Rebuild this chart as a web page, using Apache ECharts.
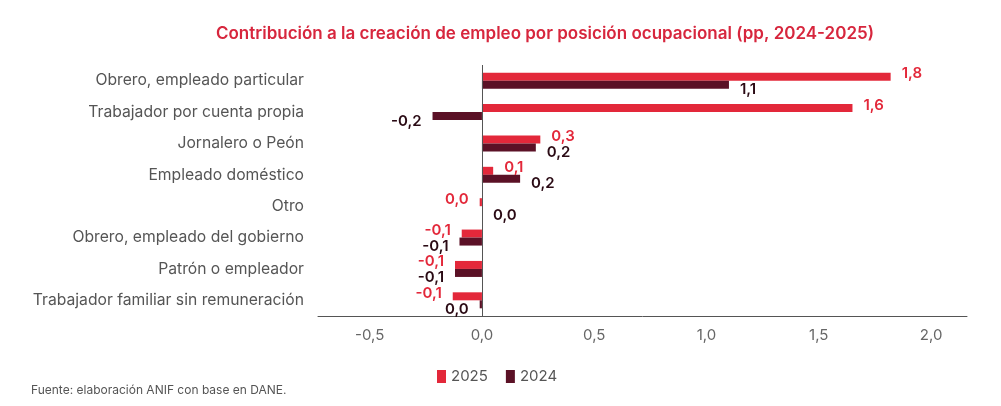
<!DOCTYPE html>
<html>
<head>
<meta charset="utf-8">
<script src="https://cdn.jsdelivr.net/npm/echarts@6/dist/echarts.min.js"></script>
<style>
	html, body { margin: 0; padding: 0; background: #fff; }
	#main { width: 1001px; height: 406px; }
</style>
</head>
<body>
<div id="main"></div>
<script>
var categories = [
	"Obrero, empleado particular",
	"Trabajador por cuenta propia",
	"Jornalero o Peón",
	"Empleado doméstico",
	"Otro",
	"Obrero, empleado del gobierno",
	"Patrón o empleador",
	"Trabajador familiar sin remuneración"
];
var values2025 = [1.82, 1.65, 0.26, 0.05, -0.01, -0.09, -0.12, -0.13];
var values2024 = [1.10, -0.22, 0.24, 0.17, 0, -0.10, -0.12, -0.01];
var xTicks = [-0.5, 0, 0.5, 1.0, 1.5, 2.0];

var RED = "#e3283a";
var MAROON = "#5b1126";

function fmt(v) { //formato con coma decimal
	if(Math.abs(v) < 0.05) return "0,0";
	return v.toFixed(1).replace(".", ",");
}

function buildData(list, dy) {
	var out = [];
	for(var i = 0; i < list.length; i++) {
		var v = list[i];
		out.push({
			value: v,
			label: {
				position: v < 0 ? "left" : "right",
				offset: [0, dy]
			}
		});
	}
	return out;
}

var chart = echarts.init(document.getElementById("main"));
var option = {
	animation: false,
	textStyle: { fontFamily: "Inter, 'Liberation Sans', sans-serif" },
	title: {
		text: "Contribución a la creación de empleo por posición ocupacional (pp, 2024-2025)",
		left: 540,
		textAlign: "center",
		top: 20,
		textStyle: { color: "#d7263d", fontSize: 17, fontWeight: 600, fontFamily: "Inter, sans-serif" }
	},
	legend: {
		left: 432,
		top: 364,
		itemWidth: 9,
		itemHeight: 13,
		itemGap: 18,
		icon: "rect",
		textStyle: { color: "#555", fontSize: 15 },
		data: ["2025", "2024"]
	},
	graphic: [{
		type: "text",
		left: 31,
		top: 384,
		style: { text: "Fuente: elaboración ANIF con base en DANE.", fill: "#555", fontSize: 12, fontFamily: "Inter, sans-serif" }
	}],
	grid: { left: 318, right: 34, top: 65, bottom: 90, containLabel: false },
	xAxis: {
		type: "value",
		min: -0.73,
		max: 2.16,
		axisLine: { show: true, lineStyle: { color: "#555", width: 1 } },
		axisTick: { show: false },
		splitLine: { show: false },
		axisLabel: {
			customValues: xTicks,
			color: "#666",
			fontSize: 15,
			margin: 12,
			formatter: function(v) { return v.toFixed(1).replace(".", ","); }
		}
	},
	yAxis: {
		type: "category",
		inverse: true,
		data: categories,
		axisLine: { show: false, onZero: false },
		axisTick: { show: false },
		axisLabel: { color: "#555", fontSize: 15.7, margin: 14 }
	},
	series: [{
		name: "2025",
		type: "bar",
		barWidth: 8,
		barGap: "0%",
		itemStyle: { color: RED },
		label: {
			show: true,
			distance: 11,
			color: RED,
			fontSize: 15,
			fontWeight: 600,
			formatter: function(p) { return fmt(p.value); }
		},
		data: buildData(values2025, -3),
		markLine: {
			silent: true,
			symbol: "none",
			label: { show: false },
			lineStyle: { color: "#555", width: 1, type: "solid" },
			data: [{ xAxis: 0 }]
		}
	}, {
		name: "2024",
		type: "bar",
		barWidth: 8,
		barGap: "0%",
		itemStyle: { color: MAROON },
		label: {
			show: true,
			distance: 11,
			color: "#2a0a14",
			fontSize: 15,
			fontWeight: 600,
			formatter: function(p) { return fmt(p.value); }
		},
		data: buildData(values2024, 5)
	}]
};
chart.setOption(option);
</script>
</body>
</html>
